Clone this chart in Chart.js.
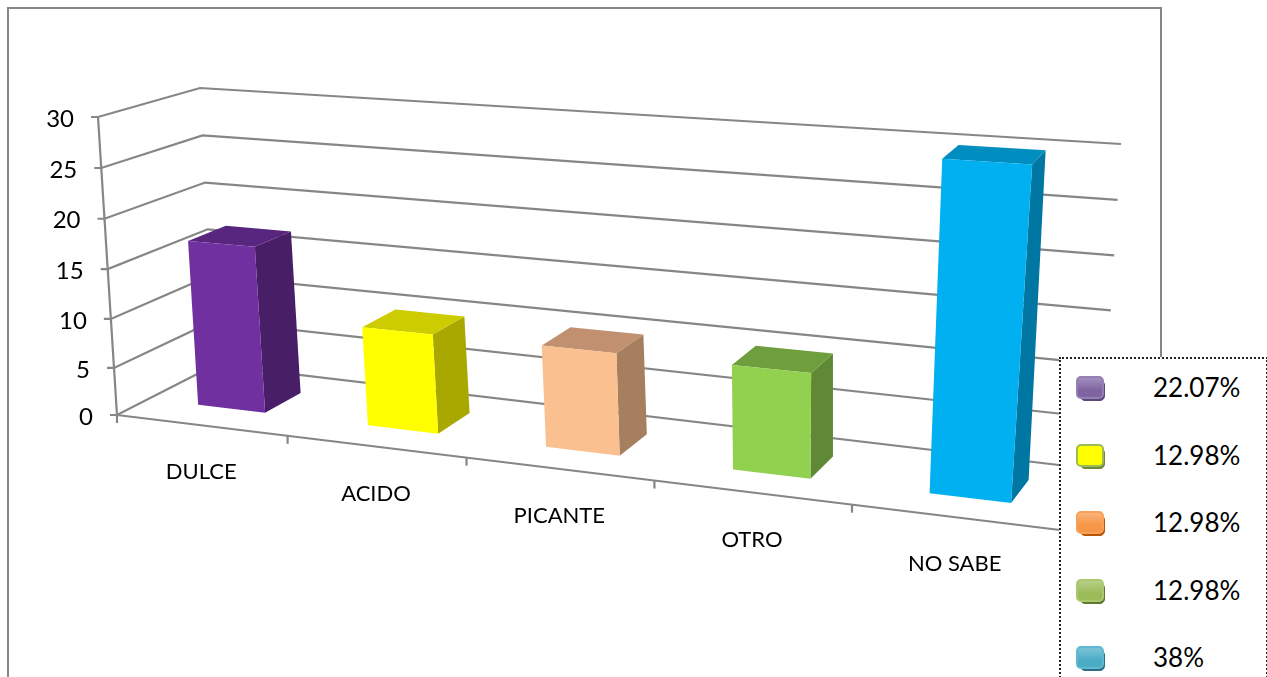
<!DOCTYPE html>
<html lang="es">
<head>
    <meta charset="UTF-8">
    <title>Sabor</title>
    <script src="https://cdn.jsdelivr.net/npm/chart.js@4/dist/chart.umd.min.js"></script>
    <style>
        html, body { margin: 0; padding: 0; background: #fff; overflow: hidden; }
        #page { position: relative; width: 1267px; height: 677px; overflow: hidden; }
        #frame { position: absolute; left: 7px; top: 7px; width: 1151px; height: 800px; border: 2px solid #868686; }
        canvas { position: absolute; left: 0; top: 0; }
        #legend {
            position: absolute; left: 1059px; top: 357px; width: 205px; height: 400px;
            border: 2px dotted #222; background: #fff;
            font-family: Lato, "Open Sans", sans-serif; font-size: 26px; color: #000;
        }
        .item { position: absolute; left: 0; height: 30px; line-height: 30px; }
        .item span { position: absolute; left: 92px; top: -2px; white-space: nowrap; }
        .item i { position: absolute; left: 15px; top: 2px; width: 24px; height: 19px; border-radius: 5px; border: 2px solid; }
        .item b { position: absolute; left: 19px; top: 6px; width: 23px; height: 19px; border-radius: 5px; border: 1px solid; }
    </style>
</head>
<body>
<div id="page">
    <div id="frame"></div>
    <canvas id="chart" width="1267" height="677"></canvas>
    <div id="legend"></div>
</div>

<script>
    var categories = ['DULCE', 'ACIDO', 'PICANTE', 'OTRO', 'NO SABE'];
    var values = [17, 10, 10, 10, 30];
    var legendLabels = ['22.07%', '12.98%', '12.98%', '12.98%', '38%'];

    var frontColors = ['#7030a0', '#ffff00', '#fac090', '#92d050', '#00b0f0'];
    var topColors = ['#59267f', '#cccc00', '#c09070', '#6f9f3d', '#008dc0'];
    var sideColors = ['#481f66', '#a8a800', '#a67f5f', '#5f8935', '#0077a2'];
    var swatchFill = ['#8064a2', '#ffff00', '#f79646', '#9bbb59', '#4bacc6'];
    var swatchEdge = ['#9580b4', '#9bbb59', '#fa9f58', '#abc86e', '#5fb9d2'];
    var swatchBack = ['#5c4776', '#6d8a3a', '#b65708', '#5f7a30', '#2c6f85'];

    var GRID = '#868686';
    var FONT = 'Lato, "Open Sans", sans-serif';

    // box corners on the page: front-left, front-right, back-right, back-left
    var floorQuad = [[117, 415], [1060, 530], [1101, 470], [215, 365]];
    var topQuad = [[98, 117], [1092, 181], [1121, 144], [200, 88]];
    var BAR_FRONT = 0.31, BAR_BACK = 0.70;
    var WARP_FLOOR = 0.93, WARP_TOP = 0.91;
    var V_CURVE = 1.03;

    function makeQuad(q) {
        var x0 = q[0][0], y0 = q[0][1], x1 = q[1][0], y1 = q[1][1];
        var x2 = q[2][0], y2 = q[2][1], x3 = q[3][0], y3 = q[3][1];
        var sx = x0 - x1 + x2 - x3, sy = y0 - y1 + y2 - y3;
        var dx1 = x1 - x2, dx2 = x3 - x2, dy1 = y1 - y2, dy2 = y3 - y2;
        var den = dx1 * dy2 - dx2 * dy1;
        var g = (sx * dy2 - dx2 * sy) / den, h = (dx1 * sy - sx * dy1) / den;
        var a = x1 - x0 + g * x1, b = x3 - x0 + h * x3;
        var d = y1 - y0 + g * y1, e = y3 - y0 + h * y3;
        return function (u, v) {
            var w = g * u + h * v + 1;
            return [(a * u + b * v + x0) / w, (d * u + e * v + y0) / w];
        };
    }
    var floorAt = makeQuad(floorQuad);
    var topAt = makeQuad(topQuad);

    function warp(u, k) { return k * u / (1 + (k - 1) * u); }

    // u across the categories, v up the value axis, d into the depth (all 0..1)
    function project(u, v, d) {
        var a = floorAt(warp(u, WARP_FLOOR), d), b = topAt(warp(u, WARP_TOP), d);
        var t = Math.pow(v, V_CURVE);
        return [a[0] + (b[0] - a[0]) * t, a[1] + (b[1] - a[1]) * t];
    }

    function poly(ctx, pts, fill) {
        ctx.beginPath();
        pts.forEach(function (p, i) { i ? ctx.lineTo(p[0], p[1]) : ctx.moveTo(p[0], p[1]); });
        ctx.closePath();
        ctx.fillStyle = fill;
        ctx.fill();
    }

    function line(ctx, pts) {
        ctx.beginPath();
        pts.forEach(function (p, i) { i ? ctx.lineTo(p[0], p[1]) : ctx.moveTo(p[0], p[1]); });
        ctx.stroke();
    }

    var box3d = {
        id: 'box3d',
        beforeDatasetsDraw: function (chart) {
            var ctx = chart.ctx, area = chart.chartArea;
            var xs = chart.scales.x, ys = chart.scales.y;
            var toU = function (px) { return (px - area.left) / area.width; };
            var toV = function (px) { return (area.bottom - px) / area.height; };

            ctx.save();
            ctx.strokeStyle = GRID;
            ctx.lineWidth = 2.2;
            ctx.fillStyle = '#000';

            // value axis: gridlines on the side and back walls, ticks, labels
            ctx.font = '24px ' + FONT;
            ctx.textAlign = 'right';
            ctx.textBaseline = 'middle';
            ys.ticks.forEach(function (t) {
                var v = toV(ys.getPixelForValue(t.value));
                var front = project(0, v, 0);
                line(ctx, [[front[0] - 7, front[1]], front, project(0, v, 1), project(1, v, 1)]);
                ctx.fillStyle = '#000';
                ctx.fillText(t.label, front[0] - 24, front[1] + 2);
            });
            line(ctx, [project(0, 0, 0), project(0, 1, 0)]);

            // category axis along the front of the floor
            line(ctx, [project(0, 0, 0), project(1, 0, 0)]);
            for (var i = 0; i <= categories.length; i++) {
                var p = project(i / categories.length, 0, 0);
                line(ctx, [p, [p[0], p[1] + 8]]);
            }
            ctx.font = '22px ' + FONT;
            ctx.textAlign = 'center';
            xs.ticks.forEach(function (t, i) {
                var c = project(toU(xs.getPixelForTick(i)), 0, 0);
                ctx.fillText(t.label, c[0], c[1] + 47);
            });

            // bars, each one from its element on the library's scales
            chart.getDatasetMeta(0).data.forEach(function (el, i) {
                var u0 = toU(el.x - el.width / 2), u1 = toU(el.x + el.width / 2);
                var v = toV(el.y);
                var d0 = BAR_FRONT, d1 = BAR_BACK;
                poly(ctx, [project(u1, 0, d0), project(u1, 0, d1), project(u1, v, d1), project(u1, v, d0)], sideColors[i]);
                poly(ctx, [project(u0, v, d0), project(u1, v, d0), project(u1, v, d1), project(u0, v, d1)], topColors[i]);
                poly(ctx, [project(u0, 0, d0), project(u1, 0, d0), project(u1, v, d0), project(u0, v, d0)], el.options.backgroundColor);
            });
            ctx.restore();
            return false;
        }
    };

    new Chart(document.getElementById('chart'), {
        type: 'bar',
        data: {
            labels: categories,
            datasets: [{ data: values, backgroundColor: frontColors, barPercentage: 0.40, categoryPercentage: 1 }]
        },
        options: {
            responsive: false,
            animation: false,
            layout: { padding: { left: 117, top: 117, right: 207, bottom: 262 } },
            plugins: { legend: { display: false }, tooltip: { enabled: false } },
            scales: {
                x: { grid: { display: false }, border: { display: false }, ticks: { display: false } },
                y: {
                    min: 0, max: 30,
                    grid: { display: false }, border: { display: false },
                    ticks: { display: false, stepSize: 5 }
                }
            }
        },
        plugins: [box3d]
    });

    var legend = document.getElementById('legend');
    legendLabels.forEach(function (label, i) {
        var sheen = i === 1 ? '' : 'background-image:linear-gradient(rgba(255,255,255,.28),rgba(255,255,255,0) 65%);';
        var row = document.createElement('div');
        row.className = 'item';
        row.style.top = (15 + i * 67.5) + 'px';
        row.innerHTML = '<b style="background:' + swatchBack[i] + ';border-color:' + swatchBack[i] + '"></b>' +
            '<i style="background-color:' + swatchFill[i] + ';' + sheen + 'border-color:' + swatchEdge[i] + '"></i>' +
            '<span>' + label + '</span>';
        legend.appendChild(row);
    });
</script>
</body>
</html>
